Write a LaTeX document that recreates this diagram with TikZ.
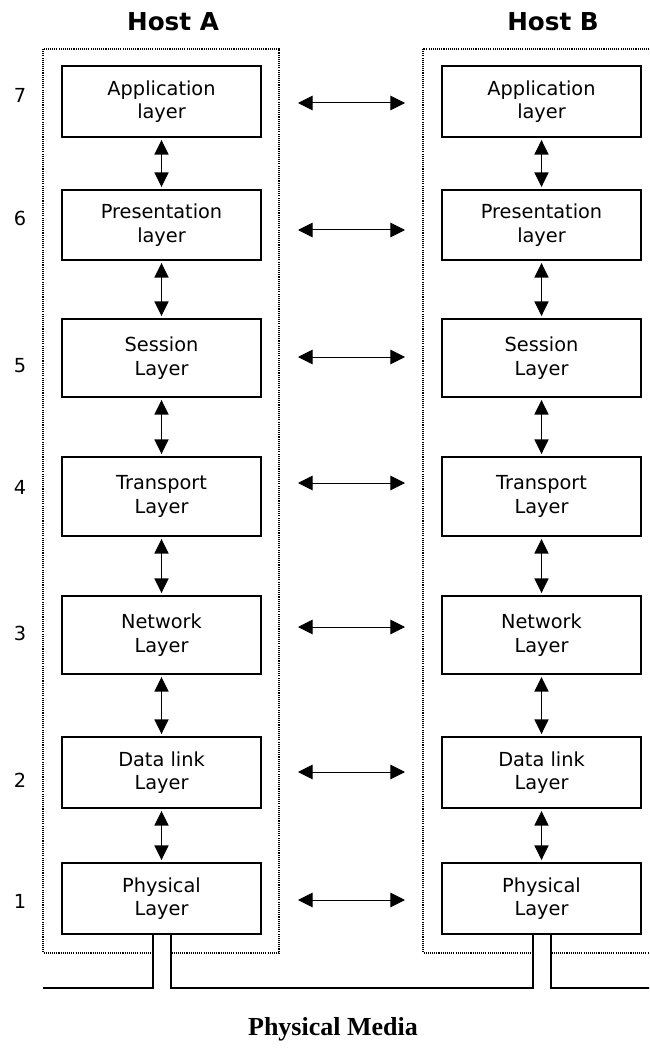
\documentclass[tikz,border=0pt]{standalone}
\usepackage{fontspec}
\usetikzlibrary{arrows.meta}
\newfontfamily\labelfont{DejaVu Sans}
\newfontfamily\mediafont{Liberation Serif}
\tikzset{
  layerbox/.style={draw, line width=1.4pt, minimum width=149.25pt, inner sep=0pt,
    align=center, font=\labelfont\fontsize{14.5}{17.5}\selectfont},
  hostframe/.style={draw, line width=0.8pt, dash pattern=on 0.8pt off 0.8pt},
  stack/.style={line width=1.1pt,
    {Triangle[length=11pt,width=10.5pt]}-{Triangle[length=11pt,width=10.5pt]},
    shorten <=1.5pt, shorten >=1.5pt},
  peer/.style={line width=0.75pt,
    {Triangle[length=11pt,width=11pt]}-{Triangle[length=11pt,width=11pt]}},
  cable/.style={line width=1.5pt},
  levelnum/.style={font=\labelfont\fontsize{14.5}{17}\selectfont, anchor=base},
  hosttitle/.style={font=\labelfont\bfseries\fontsize{18.5}{21}\selectfont, anchor=base},
  mediatitle/.style={font=\mediafont\bfseries\fontsize{19.5}{22}\selectfont, anchor=base},
}
\begin{document}
\begin{tikzpicture}[x=0.75pt,y=-0.75pt]
\useasboundingbox (0,0) rectangle (649,1059);
\clip (0,0) rectangle (649,1059);

% dotted host frames
\draw[hostframe] (43,49) rectangle (279,953);
\draw[hostframe] (423,49) rectangle (670,953);

% host titles
\node[hosttitle] (hostA) at (173,31) {Host A};
\node[hosttitle] (hostB) at (553,31) {Host B};

% layer numbers
\foreach \k/\y in {7/103,6/225,5/372,4/494,3/640,2/787,1/908}
  \node[levelnum] (n\k) at (20,\y) {\k};

% protocol stacks
\node[layerbox, minimum height=53.25pt] (A7) at (161.5,101.5) {Application\\layer};
\node[layerbox, minimum height=53.25pt] (B7) at (541.5,101.5) {Application\\layer};
\node[layerbox, minimum height=52.5pt]  (A6) at (161.5,225) {Presentation\\layer};
\node[layerbox, minimum height=52.5pt]  (B6) at (541.5,225) {Presentation\\layer};
\node[layerbox, minimum height=58.5pt]  (A5) at (161.5,358) {Session\\Layer};
\node[layerbox, minimum height=58.5pt]  (B5) at (541.5,358) {Session\\Layer};
\node[layerbox, minimum height=59.25pt] (A4) at (161.5,496.5) {Transport\\Layer};
\node[layerbox, minimum height=59.25pt] (B4) at (541.5,496.5) {Transport\\Layer};
\node[layerbox, minimum height=58.5pt]  (A3) at (161.5,635) {Network\\Layer};
\node[layerbox, minimum height=58.5pt]  (B3) at (541.5,635) {Network\\Layer};
\node[layerbox, minimum height=53.25pt] (A2) at (161.5,772.5) {Data link\\Layer};
\node[layerbox, minimum height=53.25pt] (B2) at (541.5,772.5) {Data link\\Layer};
\node[layerbox, minimum height=53.25pt] (A1) at (161.5,898.5) {Physical\\Layer};
\node[layerbox, minimum height=53.25pt] (B1) at (541.5,898.5) {Physical\\Layer};

% links between adjacent layers
\foreach \u/\l in {7/6,6/5,5/4,4/3,3/2,2/1} {
  \draw[stack] (A\u.south) -- (A\l.north);
  \draw[stack] (B\u.south) -- (B\l.north);
}

% peer-to-peer links
\foreach \k/\y in {7/103,6/230,5/357,4/483,3/627,2/772,1/900} {
  \coordinate (pl\k) at (298,\y);
  \coordinate (pr\k) at (405,\y);
  \draw[peer] (pl\k) -- (pr\k);
}

% physical media cabling
\coordinate (aL) at ([xshift=-6.75pt]A1.south);
\coordinate (aR) at ([xshift=6.75pt]A1.south);
\coordinate (bL) at ([xshift=-6.75pt]B1.south);
\coordinate (bR) at ([xshift=6.75pt]B1.south);
\coordinate (busW) at (43,988);
\coordinate (busE) at (670,988);
\fill[white] ([yshift=-0.8pt]aL) rectangle (aR |- busW);
\fill[white] ([yshift=-0.8pt]bL) rectangle (bR |- busW);
\draw[cable] (busW) -| (aL);
\draw[cable] (aR) |- (bL |- busW) -- (bL);
\draw[cable] (bR) |- (busE);

\node[mediatitle] (media) at (333,1035) {Physical Media};
\end{tikzpicture}
\end{document}
